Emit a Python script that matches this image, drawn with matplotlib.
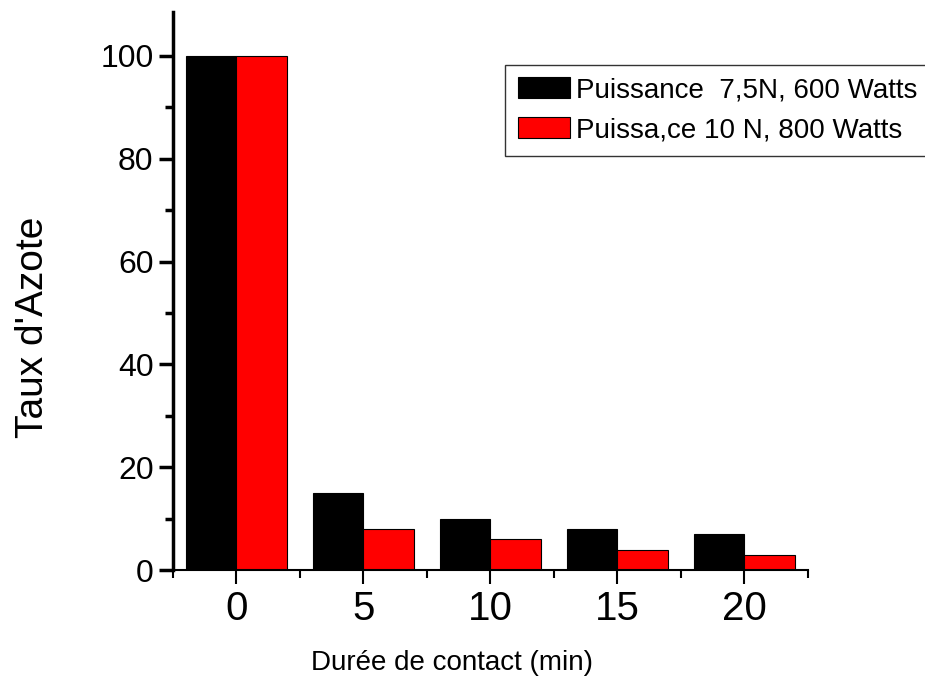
import matplotlib
matplotlib.use("Agg")
import matplotlib.pyplot as plt
import numpy as np
from matplotlib.ticker import MultipleLocator

plt.rcParams['font.family'] = ['Liberation Sans', 'DejaVu Sans']

# donnees
durees = [0, 5, 10, 15, 20]
taux_600w = [100, 15, 10, 8, 7]
taux_800w = [100, 8, 6, 4, 3]
labels = ["Puissance  7,5N, 600 Watts", "Puissa,ce 10 N, 800 Watts"]

fig = plt.figure(figsize=(9.25, 6.82), dpi=100)
ax = fig.add_axes([0.187, 0.164, 0.6865, 0.818])

x = np.array(durees, dtype=float)
w = 2.0
ax.bar(x - w / 2, taux_600w, width=w, color='black', edgecolor='black', linewidth=0.8, label=labels[0])
ax.bar(x + w / 2, taux_800w, width=w, color='#ff0000', edgecolor='black', linewidth=0.8, label=labels[1])

ax.set_xlim(-2.5, 22.5)
ax.set_ylim(0, 108.5)
ax.set_xticks(durees)
ax.set_xticks(np.arange(-2.5, 23, 5), minor=True)
ax.yaxis.set_major_locator(MultipleLocator(20))
ax.yaxis.set_minor_locator(MultipleLocator(10))

for s in ['top', 'right']:
    ax.spines[s].set_visible(False)
ax.spines['left'].set_linewidth(2.5)
ax.spines['bottom'].set_linewidth(1.5)

ax.tick_params(axis='y', which='major', direction='out', length=10, width=2.5, labelsize=23, pad=4)
ax.tick_params(axis='y', which='minor', direction='out', length=6, width=2.5)
ax.tick_params(axis='x', which='major', direction='out', length=10, width=1.5, labelsize=29, pad=4)
ax.tick_params(axis='x', which='minor', direction='out', length=6, width=1.5)

ax.set_ylabel("Taux d'Azote", fontsize=28)
ax.yaxis.set_label_coords(-0.192, 0.435)
ax.set_xlabel("Durée de contact (min)", fontsize=20)
ax.xaxis.set_label_coords(0.44, -0.143)

leg = ax.legend(loc='upper left', bbox_to_anchor=(0.546, 0.905), bbox_transform=fig.transFigure,
                fontsize=20, frameon=True, fancybox=False, borderpad=0.45, labelspacing=0.5,
                handlelength=1.9, handleheight=0.75, handletextpad=0.2, borderaxespad=0)
leg.get_frame().set_edgecolor('black')
leg.get_frame().set_linewidth(1.0)

fig.savefig("out.png", dpi=100)
